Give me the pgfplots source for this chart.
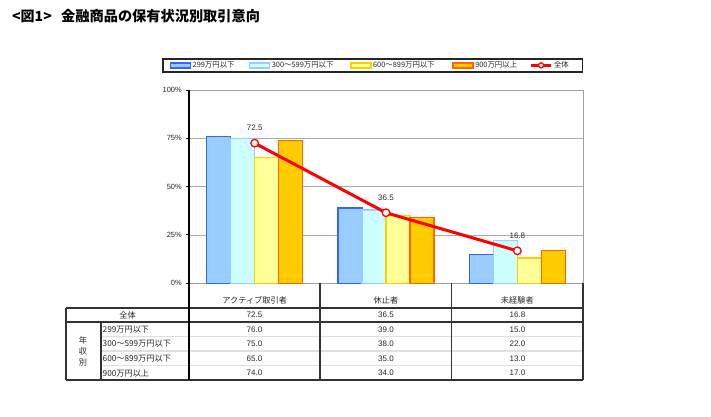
\documentclass[border=0pt]{standalone}
\usepackage{pgfplots}
\pgfplotsset{compat=1.18}
\usepackage{fontspec}
\setmainfont{Liberation Sans}
\newfontfamily\jp{Noto Sans CJK JP}
\definecolor{bafill}{HTML}{99CCFF}
\definecolor{badraw}{HTML}{3366FF}
\definecolor{bbfill}{HTML}{CCFFFF}
\definecolor{bbdraw}{HTML}{99CCFF}
\definecolor{bcfill}{HTML}{FFFF99}
\definecolor{bcdraw}{HTML}{FFCC00}
\definecolor{bdfill}{HTML}{FFCC00}
\definecolor{bddraw}{HTML}{FF6600}
\definecolor{tline}{HTML}{333333}
\pgfplotsset{
  barleg/.style={legend image code/.code={\draw[##1] (0pt,-2.5pt) rectangle (20pt,2.5pt);}},
  lineleg/.style={legend image code/.code={\draw[##1, mark size=2.5pt, mark repeat=2, mark phase=2] plot coordinates {(0pt,0pt) (10pt,0pt) (20pt,0pt)};}},
}
\begin{document}
\begin{tikzpicture}
\begin{scope}[x=1pt,y=-1pt]
\useasboundingbox (0,0) rectangle (711,416);
\node[anchor=west, inner sep=0pt, font=\jp\bfseries\fontsize{14}{16}\selectfont] at (12,16) {<図1>};
\node[anchor=west, inner sep=0pt, font=\jp\bfseries\fontsize{14.2}{16}\selectfont] at (61,16) {金融商品の保有状況別取引意向};
\end{scope}
\begin{axis}[
  at={(189pt,-283.3pt)}, anchor=south west,
  scale only axis, width=394pt, height=193.3pt,
  xmin=-0.5, xmax=2.5, ymin=0, ymax=100,
  xtick={0,1,2},
  xticklabels={アクティブ取引者,休止者,未経験者},
  xticklabel style={font=\jp\fontsize{8.2}{9}\selectfont, anchor=center, yshift=-13.7pt, text=black!85},
  x tick style={draw=none},
  ytick={0,25,50,75,100},
  ytick pos=left,
  yticklabel={\pgfmathprintnumber{\tick}\%},
  yticklabel style={font=\fontsize{7.5}{9}\selectfont, inner sep=0pt, xshift=-4pt, text=black!85},
  ymajorgrids, grid style={draw=gray!65, line width=0.9pt},
  y tick style={draw=black, line width=1pt},
  tick align=outside, major tick length=3pt,
  axis line style={draw=gray!75, line width=1pt},
  /pgf/number format/assume math mode=true,
  legend columns=5,
  legend style={at={(-0.0685,1.1655)}, anchor=north west, draw=black!85, line width=1.5pt,
    inner xsep=7pt, inner ysep=1.2pt, font=\jp\fontsize{7.4}{8}\selectfont,
    /tikz/every even column/.append style={column sep=6.8pt},
    nodes={inner xsep=1.5pt, inner ysep=1.5pt, text=black!85}},
  clip=false,
]
\addplot[ybar, bar width=0.183, bar shift=-0.2745, fill=bafill, draw=badraw, line width=1.4pt, barleg]
  coordinates {(0,76) (1,39) (2,15)};
\addlegendentry{\makebox[48pt][l]{299万円以下}}
\addplot[ybar, bar width=0.183, bar shift=-0.0915, fill=bbfill, draw=bbdraw, line width=1.4pt, barleg]
  coordinates {(0,75) (1,38) (2,22)};
\addlegendentry{\makebox[70pt][l]{300～599万円以下}}
\addplot[ybar, bar width=0.183, bar shift=0.0915, fill=bcfill, draw=bcdraw, line width=1.4pt, barleg]
  coordinates {(0,65) (1,35) (2,13)};
\addlegendentry{\makebox[71pt][l]{600～899万円以下}}
\addplot[ybar, bar width=0.183, bar shift=0.2745, fill=bdfill, draw=bddraw, line width=1.4pt, barleg]
  coordinates {(0,74) (1,34) (2,17)};
\addlegendentry{\makebox[46pt][l]{900万円以上}}
\addplot[sharp plot, red, line width=3pt, mark=*, mark size=3.8pt,
  mark options={fill=white, draw=red, line width=1.3pt},
  nodes near coords,
  every node near coord/.append style={text=black!85, font=\fontsize{8}{9}\selectfont, anchor=center, yshift=15pt},
  /pgf/number format/.cd, fixed, precision=1, /pgfplots/.cd,
  lineleg]
  coordinates {(0,72.5) (1,36.5) (2,16.8)};
\addlegendentry{\makebox[20pt][l]{全体}}
\end{axis}
\begin{scope}[x=1pt,y=-1pt]
\draw[gray!25, line width=1.5pt] (101,336.7) -- (583,336.7) (101,351.2) -- (583,351.2) (101,365.7) -- (583,365.7);
\draw[tline, line width=1.5pt] (66,308) -- (583,308) (66,322) -- (583,322) (66,380) -- (583,380);
\draw[tline, line width=1.5pt] (66,308) -- (66,380) (101,322) -- (101,380);
\draw[black, line width=1.6pt] (189,90) -- (189,380);
\draw[tline, line width=1.3pt] (320,283.3) -- (320,380) (451.7,283.3) -- (451.7,380) (583,283.3) -- (583,380);
\begin{scope}[every node/.style={inner sep=0pt, text=black!85, font=\fontsize{8}{9}\selectfont}]
\node[font=\jp\fontsize{8.2}{9}\selectfont] at (127.5,315) {全体};
\node[font=\jp\fontsize{8.2}{9}\selectfont] at (83,340) {年};
\node[font=\jp\fontsize{8.2}{9}\selectfont] at (83,351) {収};
\node[font=\jp\fontsize{8.2}{9}\selectfont] at (83,362) {別};
\node[anchor=west, font=\jp\fontsize{8.2}{9}\selectfont] at (102.5,329.5) {299万円以下};
\node[anchor=west, font=\jp\fontsize{8.2}{9}\selectfont] at (102.5,344) {300～599万円以下};
\node[anchor=west, font=\jp\fontsize{8.2}{9}\selectfont] at (102.5,358.5) {600～899万円以下};
\node[anchor=west, font=\jp\fontsize{8.2}{9}\selectfont] at (102.5,373) {900万円以上};
\node at (254.5,315) {72.5};
\node at (386,315) {36.5};
\node at (517.5,315) {16.8};
\node at (254.5,329.5) {76.0};
\node at (386,329.5) {39.0};
\node at (517.5,329.5) {15.0};
\node at (254.5,344) {75.0};
\node at (386,344) {38.0};
\node at (517.5,344) {22.0};
\node at (254.5,358.5) {65.0};
\node at (386,358.5) {35.0};
\node at (517.5,358.5) {13.0};
\node at (254.5,373) {74.0};
\node at (386,373) {34.0};
\node at (517.5,373) {17.0};
\end{scope}
\end{scope}
\end{tikzpicture}
\end{document}
